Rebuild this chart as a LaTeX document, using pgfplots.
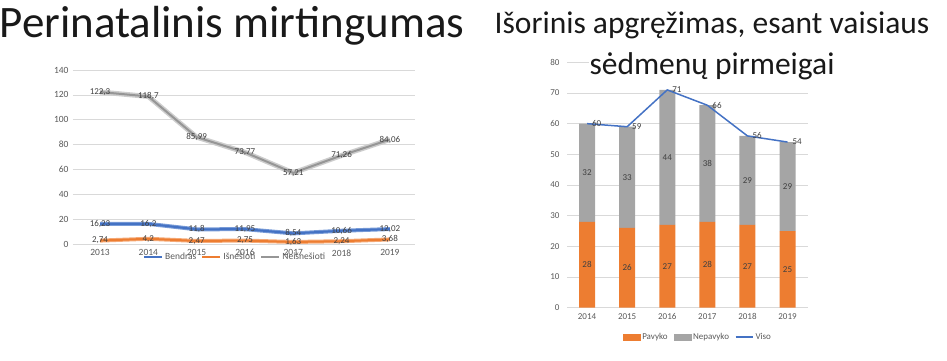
\documentclass[border=0pt]{standalone}
\usepackage{pgfplots}
\pgfplotsset{compat=1.18}
\usepackage{pgfplotstable}
\usepackage{fontspec}
\setmainfont{Carlito}
\definecolor{cblue}{RGB}{68,114,196}
\definecolor{cbluel}{RGB}{120,155,215}
\definecolor{corange}{RGB}{237,125,49}
\definecolor{corangel}{RGB}{245,170,120}
\definecolor{cgray}{RGB}{165,165,165}
\definecolor{cgrayd}{RGB}{150,150,150}
\definecolor{cgrayl}{RGB}{205,205,205}
\definecolor{cgrid}{RGB}{217,217,217}
\definecolor{ctick}{RGB}{89,89,89}
\definecolor{clabel}{RGB}{64,64,64}

\pgfplotstableread{
x b bl i il n nl
0 16.23 16,23 2.74 2,74 122.3 122,3
1 16.2 16,2 4.2 4,2 118.7 118,7
2 11.8 11,8 2.47 2,47 85.99 85,99
3 11.95 11,95 2.75 2,75 73.77 73,77
4 8.54 8,54 1.63 1,63 57.21 57,21
5 10.66 10,66 2.24 2,24 71.26 71,26
6 12.02 12,02 3.68 3,68 84.06 84,06
}\perinatal

\pgfplotstableread{
x p n v pm nm
0 28 32 60 14 44
1 26 33 59 13 42.5
2 27 44 71 13.5 49
3 28 38 66 14 47
4 27 29 56 13.5 41.5
5 25 29 54 12.5 39.5
}\isor

\begin{document}
\begin{tikzpicture}[x=1pt,y=1pt]
\path[use as bounding box] (0,0) rectangle (947,360);

% ---------- Left chart ----------
\begin{axis}[
  at={(73pt,116pt)}, anchor=south west, scale only axis,
  width=342pt, height=174pt,
  xmin=-0.56, xmax=6.52, ymin=0, ymax=140,
  ytick={0,20,...,140}, xtick={0,...,6},
  xticklabels={2013,2014,2015,2016,2017,2018,2019},
  axis line style={draw=none}, tick style={draw=none},
  ymajorgrids, grid style={cgrid, line width=0.6pt},
  ticklabel style={font=\fontsize{9.5}{10}\selectfont, text=ctick},
  xticklabel style={yshift=-2pt},
  yticklabel style={xshift=-1pt},
  /pgf/number format/assume math mode=true,
  clip=false,
  legend style={at={(0.474,-0.075)}, anchor=center, draw=none, fill=none,
    font=\fontsize{9.5}{10}\selectfont, text=ctick, legend columns=3,
    /tikz/every even column/.append style={column sep=3pt}},
  legend image code/.code={\draw[#1] (0pt,0pt) -- (18pt,0pt);},
]
\addplot[cbluel, line width=4pt, forget plot] table[x=x,y=b]{\perinatal};
\addplot[corangel, line width=4pt, forget plot] table[x=x,y=i]{\perinatal};
\addplot[cgrayl, line width=5pt, forget plot] table[x=x,y=n]{\perinatal};
\addplot[cblue, line width=2pt, nodes near coords, point meta=explicit symbolic,
  every node near coord/.append style={anchor=center, font=\fontsize{9}{10}\selectfont, text=clabel}]
  table[x=x,y=b,meta=bl]{\perinatal};
\addlegendentry{Bendras}
\addplot[corange, line width=2pt, nodes near coords, point meta=explicit symbolic,
  every node near coord/.append style={anchor=center, font=\fontsize{9}{10}\selectfont, text=clabel}]
  table[x=x,y=i,meta=il]{\perinatal};
\addlegendentry{Išnešioti}
\addplot[cgrayd, line width=2pt, nodes near coords, point meta=explicit symbolic,
  every node near coord/.append style={anchor=center, font=\fontsize{9}{10}\selectfont, text=clabel}]
  table[x=x,y=n,meta=nl]{\perinatal};
\addlegendentry{Neišnešioti}
\end{axis}

% ---------- Right chart: bars ----------
\begin{axis}[
  at={(567pt,52.3pt)}, anchor=south west, scale only axis,
  width=240.6pt, height=245.4pt,
  xmin=-0.5, xmax=5.5, ymin=0, ymax=80,
  ytick={0,10,...,80}, xtick={0,...,5},
  xticklabels={2014,2015,2016,2017,2018,2019},
  axis line style={draw=none}, tick style={draw=none},
  ymajorgrids, grid style={cgrid, line width=0.6pt},
  ticklabel style={font=\fontsize{9}{10}\selectfont, text=ctick},
  xticklabel style={yshift=-2pt},
  yticklabel style={xshift=-4pt},
  /pgf/number format/assume math mode=true,
  ybar stacked, bar width=16pt,
]
\addplot[fill=corange, draw=none] table[x=x,y=p]{\isor};
\addplot[fill=cgray, draw=none] table[x=x,y=n]{\isor};
\end{axis}

% ---------- Right chart: line + labels ----------
\begin{axis}[
  at={(567pt,52.3pt)}, anchor=south west, scale only axis,
  width=240.6pt, height=245.4pt,
  xmin=-0.5, xmax=5.5, ymin=0, ymax=80,
  hide axis, clip=false,
  legend style={at={(0.544,-0.119)}, anchor=center, draw=none, fill=none,
    font=\fontsize{9}{10}\selectfont, text=ctick, legend columns=3,
    /tikz/every even column/.append style={column sep=4pt}},
]
\addlegendimage{area legend, fill=corange, draw=corange}
\addlegendentry{Pavyko}
\addlegendimage{area legend, fill=cgray, draw=cgray}
\addlegendentry{Nepavyko}
\addplot[cblue, line width=1.5pt, mark=none, nodes near coords, point meta=explicit symbolic,
  every node near coord/.append style={anchor=west, xshift=1pt, font=\fontsize{9}{10}\selectfont, text=clabel}]
  table[x=x,y=v,meta=v]{\isor};
\addlegendentry{Viso}
\addplot[draw=none, forget plot, nodes near coords, point meta=explicit symbolic,
  every node near coord/.append style={anchor=center, font=\fontsize{9}{10}\selectfont, text=clabel}]
  table[x=x,y=pm,meta=p]{\isor};
\addplot[draw=none, forget plot, nodes near coords, point meta=explicit symbolic,
  every node near coord/.append style={anchor=center, font=\fontsize{9}{10}\selectfont, text=clabel}]
  table[x=x,y=nm,meta=n]{\isor};
\end{axis}

% ---------- Titles ----------
\node[font=\fontsize{45}{48}\selectfont, anchor=base, text=black!90] at (232,323) {Perinatalinis mirtingumas};
\node[font=\fontsize{31.5}{34}\selectfont, anchor=base, text=black!90] at (712,327) {Išorinis apgręžimas, esant vaisiaus};
\node[font=\fontsize{31.5}{34}\selectfont, anchor=base, text=black!90, fill=white, inner sep=1pt] at (712,286) {sėdmenų pirmeigai};
\end{tikzpicture}
\end{document}
